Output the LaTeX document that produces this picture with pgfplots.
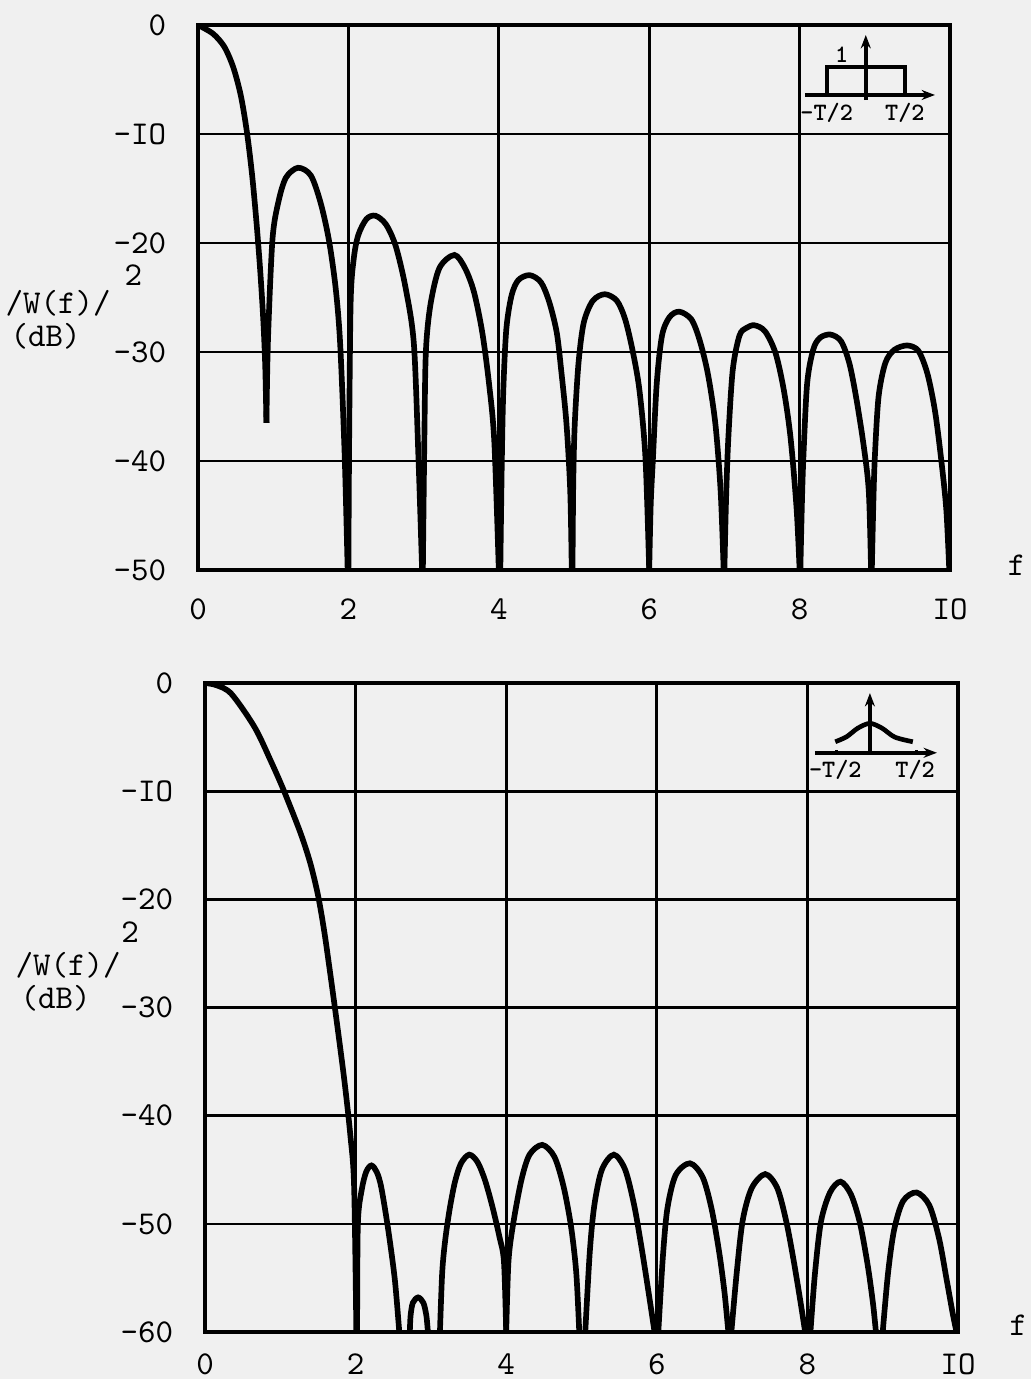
\documentclass[border=0pt]{standalone}
\usepackage{pgfplots}
\pgfplotsset{compat=1.18}
\usetikzlibrary{arrows.meta}

\pgfplotsset{
  scan/.style={
    scale only axis,
    anchor=south west,
    xmin=0, xmax=10,
    xtick={0,2,4,6,8,10},
    xticklabels={0,2,4,6,8,IO},
    grid=major,
    grid style={black, line width=0.8pt},
    axis line style={line width=1.2pt},
    major tick length=0pt,
    tick label style={font=\ttfamily\fontsize{10}{10}\selectfont},
    /pgf/number format/assume math mode=true,
    yticklabel style={xshift=-6pt},
  },
  curve/.style={black, line width=1.7pt, smooth, tension=0.5, no markers},
}
\tikzset{
  lbl/.style={font=\ttfamily\fontsize{10}{10}\selectfont, inner sep=0pt},
  ins/.style={font=\ttfamily\bfseries\fontsize{7.5}{7.5}\selectfont},
}

\begin{document}
\begin{tikzpicture}
\useasboundingbox (0pt,0pt) rectangle (309.3pt,-413.7pt);
\fill[black!6] (0pt,0pt) rectangle (309.3pt,-413.7pt);

% rectangular window
\begin{axis}[scan,
  at={(59.4pt,-171pt)}, width=225.6pt, height=163.5pt,
  ymin=-50, ymax=0,
  ytick={-50,-40,-30,-20,-10,0},
  yticklabels={-50,-40,-30,-20,-IO,0},
  xticklabel style={yshift=-5pt},
]
\addplot[curve] coordinates {(0,0) (0.2,-0.8) (0.35,-2.0) (0.47,-3.9) (0.57,-6.5) (0.65,-9.8)
  (0.72,-13.8) (0.78,-18.3) (0.83,-22.8) (0.87,-27.3) (0.895,-31.5) (0.91,-36.5)};
\addplot[curve] coordinates {(0.91,-36.5) (0.93,-29) (0.99,-19.7) (1.07,-16.2) (1.17,-14.0) (1.33,-13.1)
  (1.50,-13.8) (1.63,-16.3) (1.74,-19.7) (1.83,-24.1) (1.89,-29.2) (1.95,-39.4) (1.99,-50)};
\addplot[curve] coordinates {(2.0,-50) (2.01,-38) (2.03,-25.4) (2.07,-21.5) (2.13,-19.3) (2.24,-17.8) (2.36,-17.5)
  (2.50,-18.3) (2.63,-20.3) (2.76,-24.1) (2.87,-29.2) (2.93,-39.4) (2.98,-50)};
\addplot[curve] coordinates {(2.99,-50) (3.01,-38) (3.03,-30) (3.09,-25.7) (3.21,-22.3) (3.41,-21.1)
  (3.55,-22.3) (3.67,-24.5) (3.78,-28.2) (3.87,-32.9) (3.94,-38.2) (4.0,-50)};
\addplot[curve] coordinates {(4.02,-50) (4.04,-40) (4.06,-33.5) (4.10,-27.9) (4.17,-24.8) (4.26,-23.4) (4.41,-22.95)
  (4.56,-23.6) (4.67,-25.4) (4.77,-28.2) (4.83,-31.7) (4.90,-36.6) (4.95,-42.8) (4.97,-50)};
\addplot[curve] coordinates {(4.98,-50) (4.99,-42) (5.01,-36.6) (5.06,-31.0) (5.13,-27.3) (5.25,-25.3) (5.41,-24.7)
  (5.57,-25.3) (5.68,-27.0) (5.78,-29.9) (5.87,-33.5) (5.95,-39.7) (6.0,-50)};
\addplot[curve] coordinates {(6.0,-50) (6.02,-44) (6.05,-39.7) (6.10,-32.9) (6.17,-28.5) (6.27,-26.8) (6.40,-26.3)
  (6.56,-27.0) (6.67,-28.9) (6.78,-32.0) (6.88,-36.6) (6.95,-42.8) (6.99,-50)};
\addplot[curve] coordinates {(7.0,-50) (7.02,-44) (7.05,-38.2) (7.11,-31.7) (7.20,-28.5) (7.29,-27.8) (7.40,-27.55)
  (7.54,-28.1) (7.68,-30.1) (7.79,-33.5) (7.88,-37.9) (7.96,-44.4) (8.0,-50)};
\addplot[curve] coordinates {(8.01,-50) (8.03,-44) (8.05,-39.7) (8.10,-32.9) (8.18,-29.8) (8.27,-28.7) (8.41,-28.4)
  (8.55,-29.0) (8.66,-31.0) (8.75,-34.1) (8.85,-38.5) (8.92,-42.8) (8.95,-50)};
\addplot[curve] coordinates {(8.96,-50) (8.98,-44) (9.00,-39.7) (9.05,-34.1) (9.14,-31.0) (9.26,-29.8) (9.43,-29.4)
  (9.58,-29.9) (9.70,-32.0) (9.80,-35.4) (9.88,-39.7) (9.95,-44.4) (9.99,-50)};
% inset: rectangular pulse
\draw[line width=1.1pt, -{Stealth[length=4pt]}] (8.07,-6.42) -- (9.80,-6.42);
\draw[line width=1.1pt, -{Stealth[length=4pt]}] (8.88,-6.9) -- (8.88,-0.92);
\draw[line width=1.1pt] (8.36,-6.42) -- (8.36,-3.85) -- (9.40,-3.85) -- (9.40,-6.42);
\node[ins] at (8.56,-2.7) {1};
\node[ins] at (8.36,-8.1) {-T/2};
\node[ins] at (9.40,-8.1) {T/2};
\end{axis}

% bell-shaped window
\begin{axis}[scan,
  at={(61.5pt,-399.6pt)}, width=225.9pt, height=194.7pt,
  ymin=-60, ymax=0,
  ytick={-60,-50,-40,-30,-20,-10,0},
  yticklabels={-60,-50,-40,-30,-20,-IO,0},
  xticklabel style={yshift=-3pt},
]
\addplot[curve] coordinates {(0,0) (0.15,-0.2) (0.35,-1.0) (0.66,-4.1) (0.88,-7.3) (1.05,-10) (1.27,-13.9)
  (1.40,-16.7) (1.50,-19.6) (1.58,-22.8) (1.65,-26.2) (1.74,-30.8) (1.85,-36.7) (1.93,-41.8) (1.98,-46.5) (2.01,-60)};
\addplot[curve] coordinates {(2.02,-60) (2.03,-50) (2.08,-46.9) (2.14,-45.2) (2.21,-44.6) (2.28,-45.2)
  (2.34,-46.6) (2.43,-50.4) (2.52,-55.1) (2.58,-60)};
\addplot[curve] coordinates {(2.72,-60) (2.73,-58.5) (2.76,-57.3) (2.83,-56.8) (2.90,-57.3) (2.94,-58.5) (2.96,-60)};
\addplot[curve] coordinates {(3.12,-60) (3.15,-54.5) (3.19,-51.5) (3.25,-48.6) (3.32,-46.1) (3.40,-44.4) (3.51,-43.6)
  (3.62,-44.3) (3.72,-46.0) (3.82,-48.5) (3.91,-51.2) (3.97,-53.5) (4.0,-60)};
\addplot[curve] coordinates {(4.0,-60) (4.03,-53.5) (4.09,-50.1) (4.20,-46) (4.31,-43.6) (4.48,-42.7)
  (4.64,-43.8) (4.76,-46.5) (4.86,-50.2) (4.93,-54.5) (4.97,-60)};
\addplot[curve] coordinates {(5.05,-60) (5.11,-52.6) (5.17,-48.3) (5.27,-45.0) (5.43,-43.6)
  (5.58,-45.0) (5.70,-48.3) (5.80,-52.3) (5.89,-56.3) (5.97,-60)};
\addplot[curve] coordinates {(6.02,-60) (6.08,-53.1) (6.14,-48.6) (6.25,-45.5) (6.44,-44.4)
  (6.61,-45.7) (6.73,-48.7) (6.83,-52.7) (6.90,-56.4) (6.95,-60)};
\addplot[curve] coordinates {(6.99,-60) (7.06,-54.6) (7.14,-49.7) (7.26,-46.7) (7.44,-45.4)
  (7.60,-46.7) (7.72,-49.8) (7.82,-53.5) (7.91,-57.3) (7.97,-60)};
\addplot[curve] coordinates {(8.04,-60) (8.10,-54.6) (8.18,-49.8) (8.30,-47.1) (8.44,-46.1)
  (8.58,-47.3) (8.70,-50.0) (8.80,-53.8) (8.87,-57.3) (8.91,-60)};
\addplot[curve] coordinates {(9.0,-60) (9.07,-54.6) (9.15,-50.6) (9.27,-47.9) (9.45,-47.1)
  (9.62,-48.3) (9.75,-51.4) (9.85,-55.2) (9.93,-58.3) (9.98,-60)};
% inset: bell pulse
\draw[line width=1.1pt, -{Stealth[length=4pt]}] (8.10,-6.45) -- (9.72,-6.45);
\draw[line width=1.1pt, -{Stealth[length=4pt]}] (8.83,-6.45) -- (8.83,-0.93);
\draw[line width=0.8pt] (8.39,-6.2) -- (8.39,-6.7) (9.45,-6.2) -- (9.45,-6.7);
\addplot[black, line width=1.4pt, smooth] coordinates {
  (8.37,-5.43) (8.52,-4.97) (8.67,-4.17) (8.83,-3.73) (8.99,-4.17) (9.16,-5.0) (9.40,-5.43)
};
\node[ins] at (8.37,-8.05) {-T/2};
\node[ins] at (9.43,-8.05) {T/2};
\end{axis}

% axis titles
\node[lbl, anchor=west] at (1.5pt,-90.9pt) {/W(f)/};
\node[lbl] at (40pt,-82.5pt) {2};
\node[lbl, anchor=west] at (3pt,-101pt) {(dB)};
\node[lbl, anchor=west] at (4.5pt,-289.5pt) {/W(f)/};
\node[lbl] at (39pt,-279.6pt) {2};
\node[lbl, anchor=west] at (6pt,-299.5pt) {(dB)};
\node[lbl] at (305pt,-169.5pt) {f};
\node[lbl] at (305.5pt,-397.5pt) {f};
\end{tikzpicture}
\end{document}
